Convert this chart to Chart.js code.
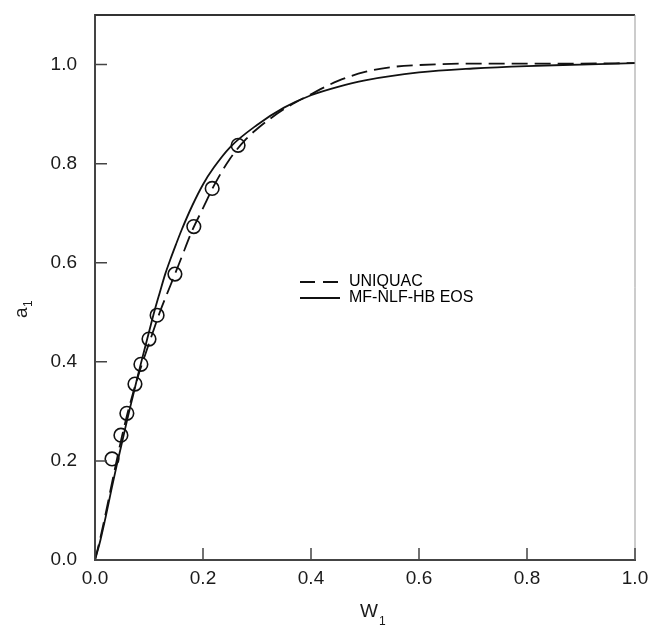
<!DOCTYPE html>
<html>
<head>
<meta charset="utf-8">
<script src="https://cdn.jsdelivr.net/npm/chart.js@4/dist/chart.umd.min.js"></script>
<style>
  html, body { margin: 0; padding: 0; background: #fff; }
  #wrap { width: 649px; height: 626px; position: relative; }
</style>
</head>
<body>
<div id="wrap"><canvas id="c" width="649" height="626"></canvas></div>
<script>
// ---- data ----
const wExp = [0.0315, 0.048, 0.059, 0.074, 0.085, 0.100, 0.115, 0.148, 0.183, 0.217, 0.265];
const aExp = [0.204, 0.252, 0.296, 0.355, 0.395, 0.446, 0.494, 0.577, 0.673, 0.750, 0.837];

const wUniquac = [0, 0.01, 0.02, 0.03, 0.04, 0.05, 0.06, 0.07, 0.08, 0.09, 0.10, 0.12, 0.14, 0.16, 0.18, 0.20, 0.22, 0.25, 0.28, 0.30, 0.35, 0.40, 0.45, 0.50, 0.55, 0.60, 0.70, 0.80, 0.90, 1.00];
const aUniquac = [0, 0.045, 0.095, 0.148, 0.200, 0.250, 0.295, 0.335, 0.372, 0.405, 0.437, 0.500, 0.555, 0.610, 0.665, 0.710, 0.755, 0.810, 0.850, 0.870, 0.910, 0.940, 0.967, 0.985, 0.995, 0.999, 1.002, 1.002, 1.002, 1.003];

const wEos = [0, 0.01, 0.02, 0.03, 0.04, 0.05, 0.06, 0.07, 0.08, 0.09, 0.10, 0.11, 0.12, 0.13, 0.14, 0.15, 0.16, 0.18, 0.20, 0.22, 0.25, 0.30, 0.35, 0.40, 0.45, 0.50, 0.60, 0.70, 0.80, 0.90, 1.00];
const aEos = [0, 0.040, 0.088, 0.140, 0.190, 0.237, 0.285, 0.330, 0.375, 0.418, 0.460, 0.502, 0.540, 0.577, 0.608, 0.637, 0.665, 0.715, 0.758, 0.792, 0.833, 0.878, 0.913, 0.938, 0.955, 0.968, 0.984, 0.992, 0.997, 1.000, 1.003];

const xTicks = [0, 0.2, 0.4, 0.6, 0.8, 1.0];
const yTicks = [0, 0.2, 0.4, 0.6, 0.8, 1.0];
const legendLabels = ['UNIQUAC', 'MF-NLF-HB EOS'];

const FONT = '"Liberation Sans", Arial, Helvetica, sans-serif';
const pts = (xs, ys) => xs.map((x, i) => ({ x: x, y: ys[i] }));

const framePlugin = {
  id: 'frame',
  afterDatasetsDraw(chart) {
    const ctx = chart.ctx;
    const a = chart.chartArea;
    const xs = chart.scales.x, ys = chart.scales.y;
    ctx.save();
    // top and right frame
    ctx.strokeStyle = '#333';
    ctx.lineWidth = 2;
    ctx.beginPath();
    ctx.moveTo(a.left, a.top);
    ctx.lineTo(a.right, a.top);
    ctx.stroke();
    ctx.strokeStyle = '#999';
    ctx.lineWidth = 1;
    ctx.beginPath();
    ctx.moveTo(a.right, a.top);
    ctx.lineTo(a.right, a.bottom);
    ctx.stroke();
    // inward tick marks
    ctx.strokeStyle = '#444';
    ctx.lineWidth = 1.5;
    ctx.beginPath();
    yTicks.forEach(v => {
      const y = ys.getPixelForValue(v);
      ctx.moveTo(a.left, y);
      ctx.lineTo(a.left + 12, y);
    });
    xTicks.forEach(v => {
      const x = xs.getPixelForValue(v);
      ctx.moveTo(x, a.bottom);
      ctx.lineTo(x, a.bottom - 12);
    });
    ctx.stroke();

    // legend
    const lx = 300, ly1 = 282, ly2 = 298;
    ctx.strokeStyle = '#111';
    ctx.lineWidth = 1.8;
    ctx.setLineDash([15, 8]);
    ctx.beginPath(); ctx.moveTo(lx, ly1); ctx.lineTo(lx + 40, ly1); ctx.stroke();
    ctx.setLineDash([]);
    ctx.beginPath(); ctx.moveTo(lx, ly2); ctx.lineTo(lx + 40, ly2); ctx.stroke();
    ctx.fillStyle = '#000';
    ctx.font = '16px ' + FONT;
    ctx.textAlign = 'left';
    ctx.textBaseline = 'middle';
    ctx.fillText(legendLabels[0], lx + 49, ly1);
    ctx.fillText(legendLabels[1], lx + 49, ly2);

    // axis titles with subscripts
    ctx.fillStyle = '#1a1a1a';
    ctx.textBaseline = 'alphabetic';
    ctx.font = '19px ' + FONT;
    ctx.fillText('W', 360, 617);
    ctx.font = '12px ' + FONT;
    ctx.fillText('1', 379, 625);

    ctx.save();
    ctx.translate(27, 318);
    ctx.rotate(-Math.PI / 2);
    ctx.font = '19px ' + FONT;
    ctx.fillText('a', 0, 0);
    ctx.font = '12px ' + FONT;
    ctx.fillText('1', 11, 5);
    ctx.restore();
    ctx.restore();
  }
};

new Chart(document.getElementById('c'), {
  type: 'scatter',
  data: {
    datasets: [
      {
        label: legendLabels[0],
        data: pts(wUniquac, aUniquac),
        showLine: true,
        borderColor: '#111',
        borderWidth: 1.8,
        borderDash: [16, 7],
        pointRadius: 0,
        cubicInterpolationMode: 'monotone',
        fill: false
      },
      {
        label: legendLabels[1],
        data: pts(wEos, aEos),
        showLine: true,
        borderColor: '#111',
        borderWidth: 1.8,
        pointRadius: 0,
        cubicInterpolationMode: 'monotone',
        fill: false
      },
      {
        label: 'exp',
        data: pts(wExp, aExp),
        showLine: false,
        pointRadius: 6.8,
        pointBorderWidth: 1.6,
        pointBorderColor: '#111',
        pointBackgroundColor: 'rgba(0,0,0,0)'
      }
    ]
  },
  options: {
    responsive: false,
    animation: false,
    devicePixelRatio: 1,
    layout: { padding: { left: 0, top: 15, right: 14, bottom: 0 } },
    plugins: { legend: { display: false }, tooltip: { enabled: false } },
    scales: {
      x: {
        type: 'linear',
        min: 0, max: 1,
        afterBuildTicks: s => { s.ticks = xTicks.map(v => ({ value: v })); },
        afterFit: s => { s.height = 66; s.paddingLeft = 0; s.paddingRight = 0; },
        grid: { display: true, drawOnChartArea: false, drawTicks: false },
        border: { display: true, color: '#444', width: 2 },
        ticks: {
          padding: 7,
          color: '#1a1a1a',
          font: { family: FONT, size: 19 },
          maxRotation: 0,
          callback: v => Number(v).toFixed(1)
        }
      },
      y: {
        type: 'linear',
        min: 0, max: 1.1,
        afterBuildTicks: s => { s.ticks = yTicks.map(v => ({ value: v })); },
        afterFit: s => { s.width = 95; s.paddingTop = 0; s.paddingBottom = 0; },
        grid: { display: true, drawOnChartArea: false, drawTicks: false },
        border: { display: true, color: '#444', width: 2 },
        ticks: {
          padding: 18,
          color: '#1a1a1a',
          font: { family: FONT, size: 19 },
          callback: v => Number(v).toFixed(1)
        }
      }
    }
  },
  plugins: [framePlugin]
});
</script>
</body>
</html>
